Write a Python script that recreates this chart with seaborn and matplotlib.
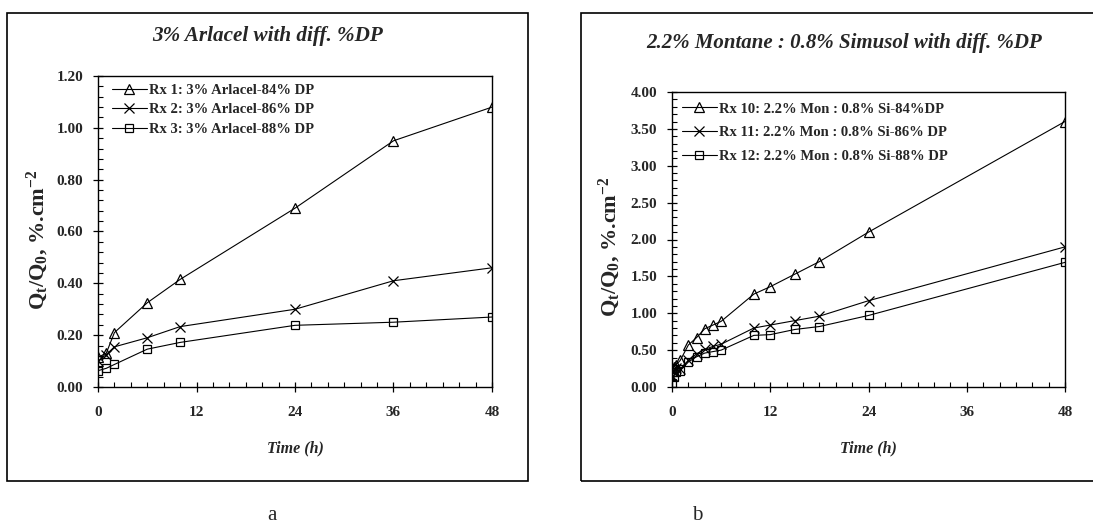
import numpy as np
import pandas as pd
import seaborn as sns
import matplotlib
matplotlib.use("Agg")
import matplotlib.pyplot as plt
from matplotlib.patches import Rectangle
from matplotlib.ticker import MultipleLocator, FormatStrFormatter

# ---- release data: panel a (3% Arlacel) ----
time_a = [0, 1, 2, 6, 10, 24, 36, 48]
rx1 = [0.115, 0.13, 0.21, 0.325, 0.415, 0.69, 0.95, 1.08]
rx2 = [0.10, 0.125, 0.155, 0.19, 0.233, 0.30, 0.41, 0.46]
rx3 = [0.063, 0.072, 0.087, 0.146, 0.172, 0.238, 0.25, 0.27]
labels_a = ["Rx 1: 3% Arlacel-84% DP",
            "Rx 2: 3% Arlacel-86% DP",
            "Rx 3: 3% Arlacel-88% DP"]

# ---- release data: panel b (2.2% Montane : 0.8% Simusol) ----
time_b = [0, 0.25, 0.5, 1, 2, 3, 4, 5, 6, 10, 12, 15, 18, 24, 48]
rx10 = [0.22, 0.27, 0.30, 0.36, 0.57, 0.67, 0.79, 0.84, 0.89, 1.26, 1.36, 1.53, 1.70, 2.10, 3.60]
rx11 = [0.15, 0.22, 0.26, 0.24, 0.36, 0.45, 0.51, 0.55, 0.58, 0.80, 0.84, 0.90, 0.96, 1.17, 1.90]
rx12 = [0.05, 0.13, 0.20, 0.22, 0.34, 0.41, 0.46, 0.48, 0.50, 0.70, 0.71, 0.78, 0.82, 0.97, 1.69]
labels_b = ["Rx 10: 2.2% Mon : 0.8% Si-84%DP",
            "Rx 11: 2.2% Mon : 0.8% Si-86% DP",
            "Rx 12: 2.2% Mon : 0.8% Si-88% DP"]

title_a = "3% Arlacel with diff. %DP"
title_b = "2.2% Montane : 0.8% Simusol with diff. %DP"
xlabel = "Time (h)"
ylabel = r"Q$_t$/Q$_0$, %.cm$^{\mathrm{-2}}$"
x_ticks = [0, 12, 24, 36, 48]

sns.set_style("ticks")
plt.rcParams["font.family"] = ["Liberation Serif", "DejaVu Serif"]
plt.rcParams["mathtext.fontset"] = "custom"
plt.rcParams["mathtext.rm"] = "Liberation Serif:bold"
plt.rcParams["mathtext.it"] = "Liberation Serif:bold"
plt.rcParams["mathtext.bf"] = "Liberation Serif:bold"
plt.rcParams["mathtext.default"] = "rm"

W, H = 1093, 529
fig = plt.figure(figsize=(W / 100, H / 100), dpi=100)
fig.patch.set_facecolor("white")


def px_axes(x0, y0, x1, y1):
    return fig.add_axes([x0 / W, 1 - y1 / H, (x1 - x0) / W, (y1 - y0) / H])


# outer frames around each panel
fig.add_artist(Rectangle((7 / W, 1 - 481 / H), 521 / W, 468 / H, transform=fig.transFigure,
                         fill=False, edgecolor="black", linewidth=1.2))
fig.add_artist(Rectangle((581 / W, 1 - 481 / H), 520 / W, 468 / H, transform=fig.transFigure,
                         fill=False, edgecolor="black", linewidth=1.2, clip_on=False))

ax_a = px_axes(98, 76, 492, 387)
ax_b = px_axes(672, 92, 1065, 387)

markers = ["^", "x", "s"]


def draw_panel(ax, t, series, labels, ymax, ymajor, yminor, leg_xy, leg_spacing):
    for vals, lab, mk in zip(series, labels, markers):
        df = pd.DataFrame({"t": t, "v": vals})
        sns.lineplot(data=df, x="t", y="v", ax=ax, color="black", linewidth=0.8,
                     marker=mk, markersize=7 if mk != "s" else 6,
                     markerfacecolor="none", markeredgecolor="black",
                     markeredgewidth=0.9, label=lab, sort=False, errorbar=None)
    ax.set_xlim(0, 48)
    ax.set_ylim(0, ymax)
    ax.set_xticks(x_ticks)
    ax.xaxis.set_minor_locator(MultipleLocator(2))
    ax.yaxis.set_major_locator(MultipleLocator(ymajor))
    ax.yaxis.set_minor_locator(MultipleLocator(yminor))
    ax.yaxis.set_major_formatter(FormatStrFormatter("%.2f"))
    ax.tick_params(which="major", direction="inout", length=7, width=0.9,
                   labelsize=11, color="black")
    ax.tick_params(which="minor", direction="in", length=3.5, width=0.8, color="black")
    ax.tick_params(axis="x", which="major", pad=10)
    ax.tick_params(axis="y", which="major", pad=7)
    for lbl in ax.get_xticklabels() + ax.get_yticklabels():
        lbl.set_fontweight("bold")
    for sp in ax.spines.values():
        sp.set_visible(True)
        sp.set_color("black")
        sp.set_linewidth(1.0)
    ax.set_xlabel("")
    ax.set_ylabel("")
    leg = ax.legend(loc="upper left", bbox_to_anchor=leg_xy, frameon=False,
                    borderaxespad=0, borderpad=0, handlelength=2.4,
                    handletextpad=0.15, labelspacing=leg_spacing,
                    prop={"weight": "bold", "size": 10.5})
    return leg


draw_panel(ax_a, time_a, [rx1, rx2, rx3], labels_a, 1.2, 0.2, 0.04,
           (0.035, 0.975), 0.42)
draw_panel(ax_b, time_b, [rx10, rx11, rx12], labels_b, 4.0, 0.5, 0.1,
           (0.025, 0.965), 0.72)

# titles, axis labels and panel letters
fig.text(268 / W, 1 - 36 / H, title_a, ha="center", va="center",
         fontsize=15.2, fontweight="bold", fontstyle="italic")
fig.text(844 / W, 1 - 43 / H, title_b, ha="center", va="center",
         fontsize=15, fontweight="bold", fontstyle="italic")
for ax, cx in ((ax_a, 295), (ax_b, 868)):
    fig.text(cx / W, 1 - 448 / H, xlabel, ha="center", va="center",
             fontsize=11.5, fontweight="bold", fontstyle="italic")
fig.text(38 / W, 1 - 240 / H, ylabel, ha="center", va="center", rotation=90,
         fontsize=16, fontweight="bold")
fig.text(610 / W, 1 - 247 / H, ylabel, ha="center", va="center", rotation=90,
         fontsize=16, fontweight="bold")
fig.text(272 / W, 1 - 515 / H, "a", ha="center", va="center", fontsize=15)
fig.text(697 / W, 1 - 515 / H, "b", ha="center", va="center", fontsize=15)

fig.savefig("out.png", dpi=100, facecolor="white")
